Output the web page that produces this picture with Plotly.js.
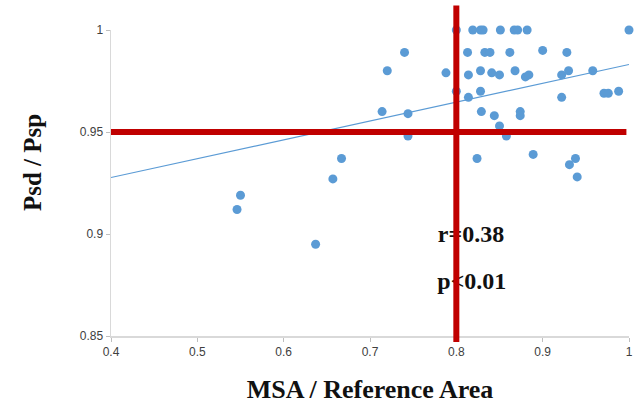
<!DOCTYPE html>
<html><head><meta charset="utf-8">
<script src="https://cdn.plot.ly/plotly-3.0.1.min.js"></script>
<style>html,body{margin:0;padding:0;background:#fff;}#chart{width:641px;height:405px;}</style>
</head><body><div id="chart"></div>
<script>
// MSA / Reference Area values
const msaRatio = [0.546,0.550,0.637,0.657,0.667,0.714,0.720,0.740,0.744,0.744,
  0.788,0.800,0.800,0.819,0.828,0.831,0.851,0.867,0.871,0.882,
  0.813,0.833,0.839,0.862,0.900,0.928,0.814,0.828,0.841,0.850,
  0.868,0.880,0.884,0.922,0.930,0.958,0.814,0.828,0.922,0.971,
  0.976,0.988,1.000,0.829,0.844,0.874,0.874,0.850,0.858,0.824,
  0.889,0.931,0.938,0.940];
// Psd / Psp values
const psdPsp = [0.912,0.919,0.895,0.927,0.937,0.960,0.980,0.989,0.959,0.948,
  0.979,1.000,0.970,1.000,1.000,1.000,1.000,1.000,1.000,1.000,
  0.989,0.989,0.989,0.989,0.990,0.989,0.978,0.980,0.979,0.978,
  0.980,0.977,0.978,0.978,0.980,0.980,0.967,0.970,0.967,0.969,
  0.969,0.970,1.000,0.960,0.958,0.960,0.958,0.953,0.948,0.937,
  0.939,0.934,0.937,0.928];
// Linear trend line endpoints
const trendX = [0.4, 1.0];
const trendY = [0.9277, 0.9831];
// Cut-off lines
const cutX = 0.8;
const cutY = 0.95;
// Annotation text
const statLabels = ['<b>r=0.38</b>', '<b>p<0.01</b>'];
const statX = [0.817, 0.818];
const statY = [0.899, 0.876];
const xRange = [0.4, 1.0];
const yRange = [0.85, 1.0];
const xTitle = 'MSA / Reference Area';
const yTitle = 'Psd / Psp';

const blue = '#5b9bd5';
const red = '#c00000';
const serif = 'Liberation Serif, Times New Roman, serif';
const tickFont = {family: 'Liberation Sans, Arial, sans-serif', size: 12, color: '#404040'};

const traces = [
  {x: trendX, y: trendY, mode: 'lines', line: {color: blue, width: 1.2}, hoverinfo: 'skip'},
  {x: msaRatio, y: psdPsp, mode: 'markers', marker: {color: blue, size: 9}, cliponaxis: false},
  {x: statX, y: statY, mode: 'text', text: statLabels, textposition: 'middle center',
   textfont: {family: serif, size: 24, color: '#111'}, cliponaxis: false, hoverinfo: 'skip'}
];

const layout = {
  width: 641, height: 405,
  margin: {l: 111, r: 12, t: 30, b: 69},
  paper_bgcolor: '#fff', plot_bgcolor: '#fff',
  showlegend: false,
  xaxis: {range: xRange, dtick: 0.1, tick0: 0.4, showgrid: false, zeroline: false,
    showline: true, linecolor: '#d9d9d9', linewidth: 1.5,
    ticks: 'outside', ticklen: 4, tickcolor: '#bfbfbf', tickfont: tickFont,
    title: {text: '<b>' + xTitle + '</b>', font: {family: serif, size: 26, color: '#111'}, standoff: 22}},
  yaxis: {range: yRange, dtick: 0.05, tick0: 0.85, showgrid: false, zeroline: false,
    showline: true, linecolor: '#d9d9d9', linewidth: 1.5,
    ticks: 'outside', ticklen: 4, tickcolor: '#bfbfbf', tickfont: tickFont},
  annotations: [
    {text: '<b>' + yTitle + '</b>', textangle: -90, xref: 'paper', yref: 'paper',
     x: -0.1525, y: 0.565, xanchor: 'center', yanchor: 'middle', showarrow: false,
     font: {family: serif, size: 25, color: '#111'}}
  ],
  shapes: [
    {type: 'line', layer: 'above', xref: 'x', yref: 'y', x0: xRange[0], x1: xRange[1] - 0.003, y0: cutY, y1: cutY,
     line: {color: red, width: 6}},
    {type: 'line', layer: 'above', xref: 'paper', yref: 'paper',
     x0: (cutX - xRange[0]) / (xRange[1] - xRange[0]), x1: (cutX - xRange[0]) / (xRange[1] - xRange[0]),
     y0: -0.02, y1: 1.08, line: {color: red, width: 6}}
  ]
};

Plotly.newPlot('chart', traces, layout, {displayModeBar: false, staticPlot: true});
</script></body></html>
